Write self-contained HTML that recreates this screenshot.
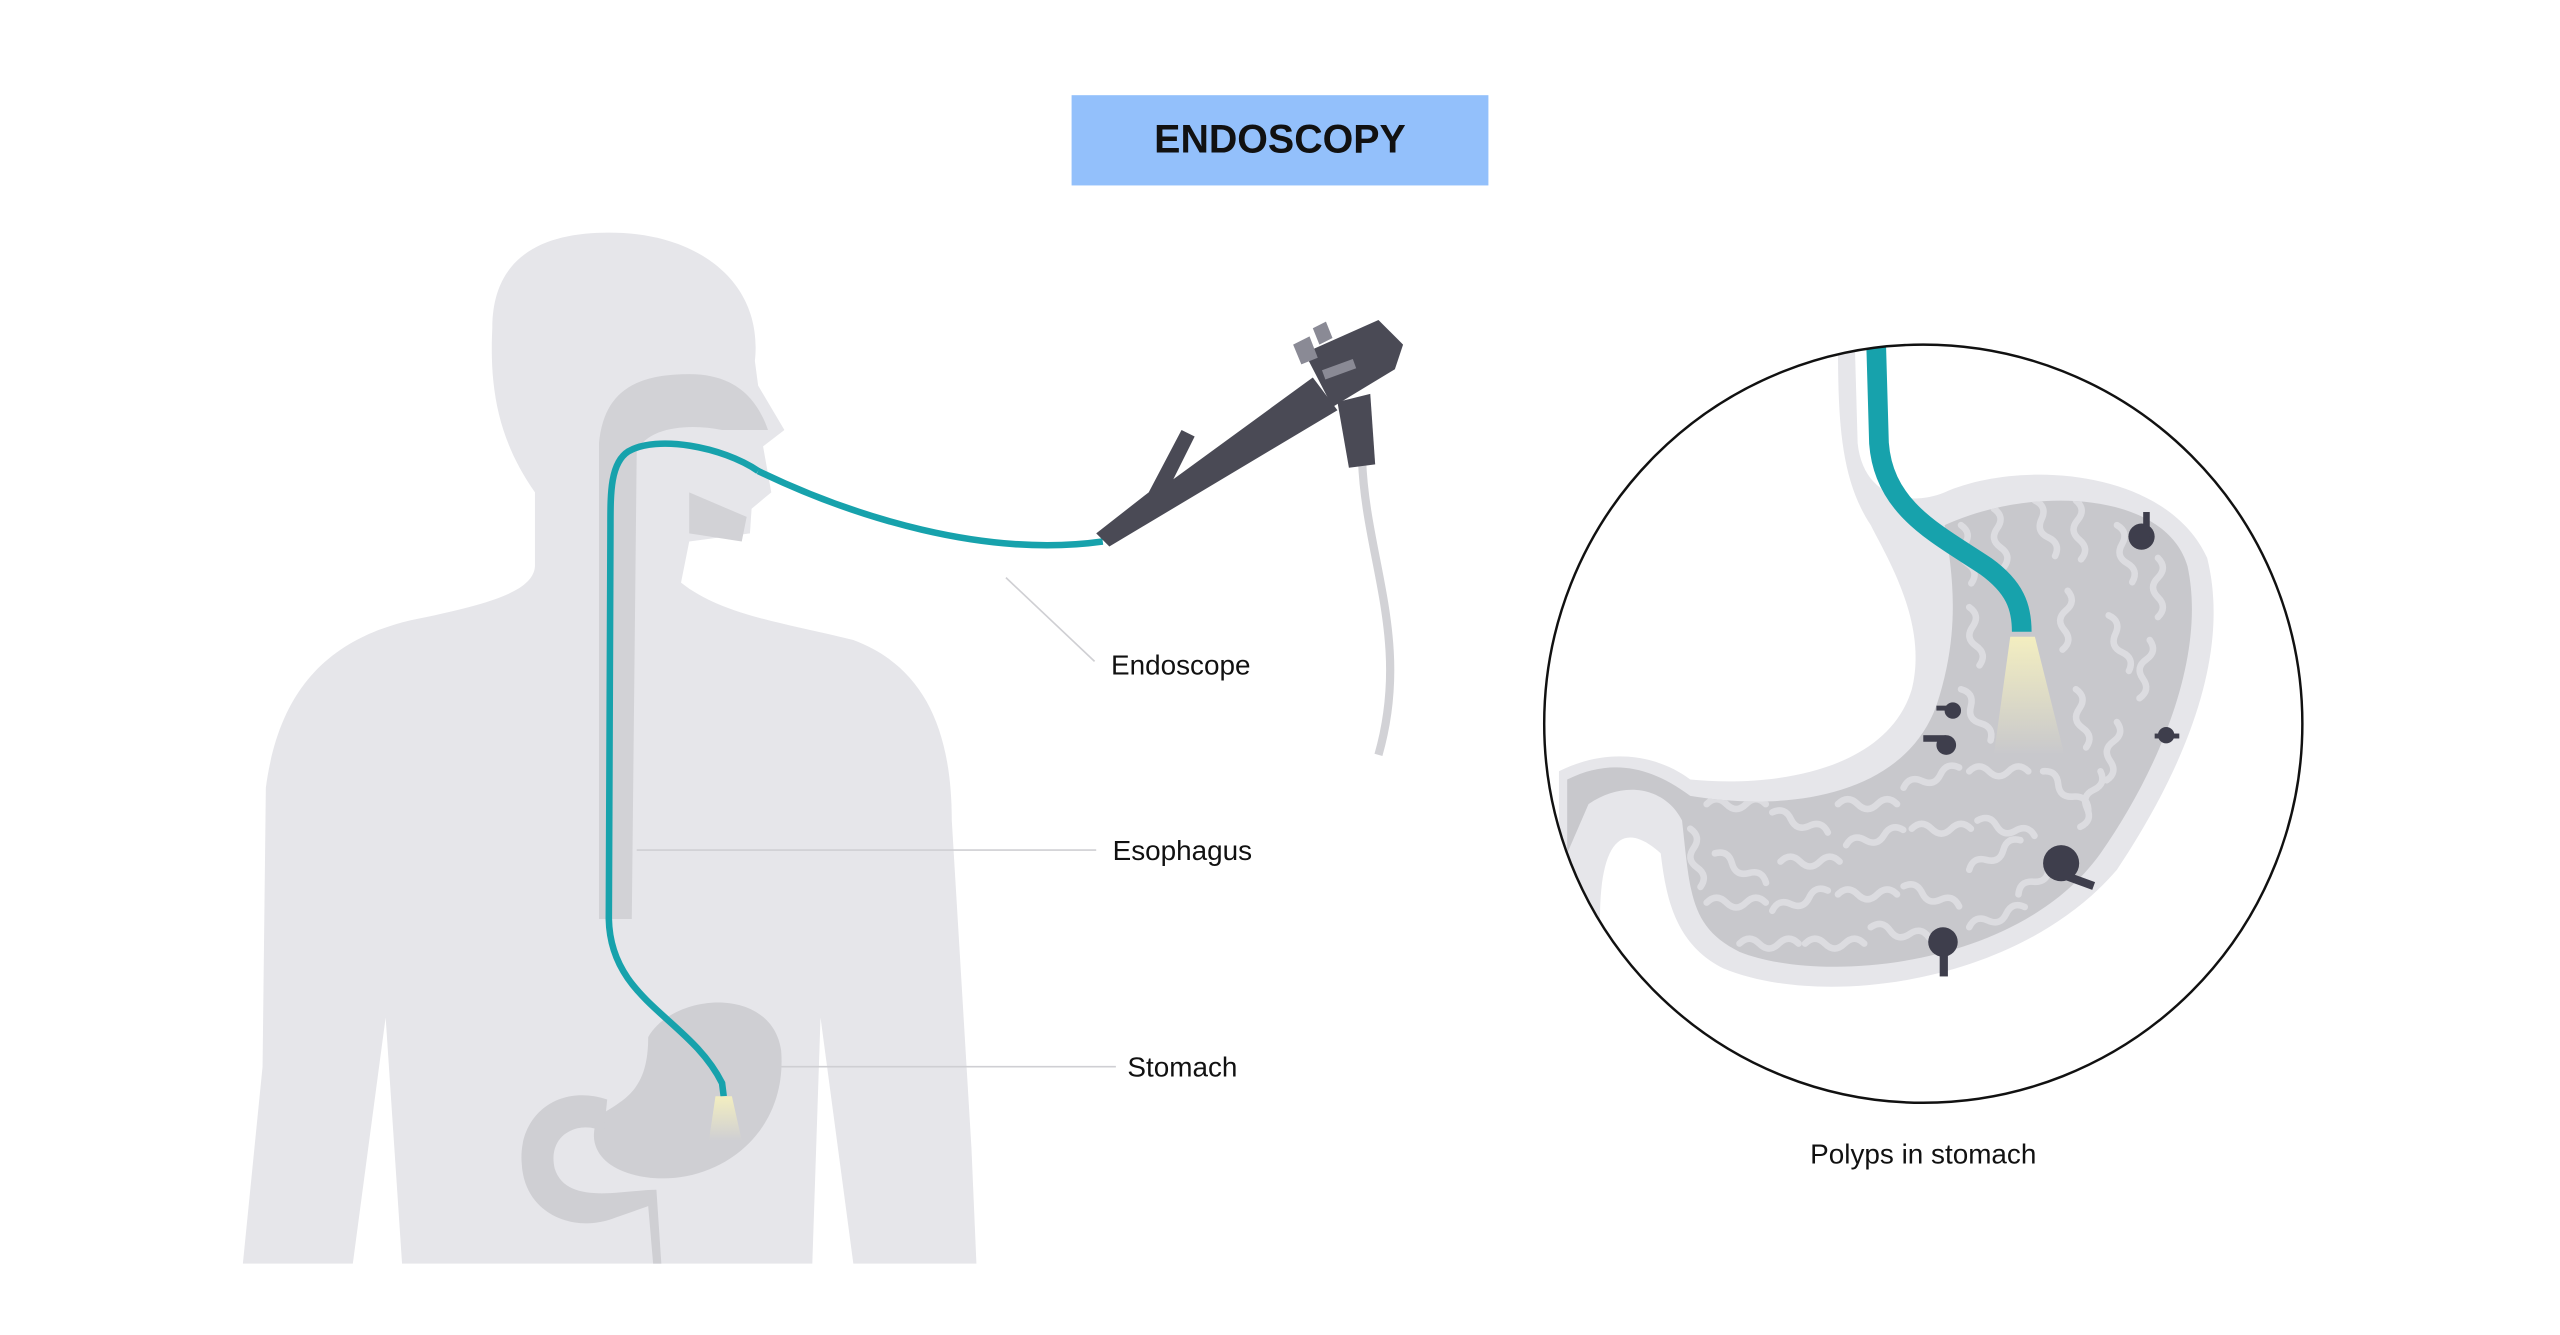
<!DOCTYPE html>
<html><head><meta charset="utf-8"><style>
html,body{margin:0;padding:0;background:#fff;}
svg{display:block;}
text{font-family:"Liberation Sans",sans-serif;}
</style></head><body>
<svg width="2560" height="1335" viewBox="0 0 1560 813.5" preserveAspectRatio="none" xmlns="http://www.w3.org/2000/svg">
<defs>
<clipPath id="cc"><circle cx="1172" cy="441" r="231"/></clipPath>
<clipPath id="st"><path d="M1185,320 C1240,295 1320,300 1333,345 C1345,400 1315,470 1280,520 C1230,590 1110,600 1060,580 C1030,565 1030,545 1025,500 C1015,480 990,475 968,490 L955,520 L955,475 C985,460 1010,470 1030,485 C1090,495 1160,485 1180,430 C1195,385 1190,350 1185,320 Z"/></clipPath>
<linearGradient id="lg" x1="0" y1="0" x2="0" y2="1"><stop offset="0" stop-color="#f3eec0"/><stop offset="1" stop-color="#f3eec0" stop-opacity="0"/></linearGradient>
<path id="w" d="M0,0 q6,-6 12,0 q6,6 12,0 q6,-6 12,0" fill="none" stroke="#dcdce0" stroke-width="4" stroke-linecap="round"/>
</defs>
<rect x="653" y="58" width="254" height="55" fill="#93c0fb"/>
<text x="780" y="93" font-size="24" font-weight="bold" text-anchor="middle" fill="#111">ENDOSCOPY</text>

<g fill="#e6e6ea">
<path d="M300,200 C300,150 340,140 380,142 C430,145 465,175 460,220 L462,235 L478,262 L465,272 L470,300 L458,310 L457,325 L420,330 L415,355 C440,375 480,380 520,390 C560,405 580,440 580,500 L592,700 L595,770 L520,770 L500,620 L495,770 L245,770 L235,620 L215,770 L148,770 L160,650 L162,480 C170,420 200,390 250,378 C300,368 325,360 326,345 L326,300 C305,270 298,240 300,200 Z"/>
</g>
<path d="M365,270 C368,240 385,228 420,228 C450,228 462,245 468,262 L440,262 C420,258 395,260 388,275 L385,560 L365,560 Z" fill="#d2d2d6"/>
<path d="M420,300 L455,315 L452,330 L420,325 Z" fill="#d2d2d6"/>
<path d="M395,632 C410,605 470,600 476,640 C480,690 440,720 400,718 C370,716 355,700 365,680 C380,670 395,665 395,632 Z" fill="#cfcfd3"/>
<path d="M370,670 C340,660 315,680 318,710 C320,740 350,752 375,742 L395,735 L398,770 L403,770 L400,725 C380,725 345,735 338,712 C333,690 355,682 368,690 Z" fill="#cfcfd3"/>
<path d="M462,287 C440,272 400,265 383,275 C372,282 372,300 372,320 L371,560 C372,610 420,620 440,660 L441,668" fill="none" stroke="#17a2ac" stroke-width="4"/>
<path d="M436,668 L446,668 L452,695 L432,695 Z" fill="url(#lg)"/>
<path d="M462,287 C520,315 600,340 672,330" fill="none" stroke="#17a2ac" stroke-width="4"/>
<path d="M830,280 C832,340 860,390 840,460" fill="none" stroke="#d2d2d6" stroke-width="5"/>
<g fill="#4a4a55">
<path d="M668,325 L700,300 L720,262 L728,266 L715,292 L800,230 L815,250 L676,333 Z"/>
<path d="M795,215 L840,195 L855,210 L850,225 L812,248 Z"/>
<path d="M815,245 L835,240 L838,283 L822,285 Z"/>
<path d="M788,210 L798,205 L803,218 L793,222 Z" fill="#8a8a95"/>
<path d="M800,200 L808,196 L812,206 L804,210 Z" fill="#8a8a95"/>
</g>
<rect x="806" y="222" width="20" height="6" fill="#8a8a95" transform="rotate(-20 816 225)"/>

<g stroke="#cfcfd3" stroke-width="1">
<line x1="613" y1="352" x2="667" y2="403"/>
<line x1="388" y1="518" x2="668" y2="518"/>
<line x1="470" y1="650" x2="680" y2="650"/>
</g>
<g font-size="17" fill="#111">
<text x="677" y="411">Endoscope</text>
<text x="678" y="524">Esophagus</text>
<text x="687" y="656">Stomach</text>
<text x="1172" y="709" text-anchor="middle">Polyps in stomach</text>
</g>

<g clip-path="url(#cc)">
<path d="M1130,200 L1132,270 C1135,300 1160,310 1185,300 C1230,280 1320,285 1345,340 C1360,400 1330,470 1290,530 C1230,600 1110,615 1050,590 C1020,575 1015,545 1012,520 C990,500 975,510 975,560 L950,560 L950,470 C980,455 1010,460 1030,475 C1080,480 1150,470 1165,420 C1175,380 1150,340 1140,320 C1120,290 1120,250 1120,200 Z" fill="#e6e6ea"/>
<path d="M1185,320 C1240,295 1320,300 1333,345 C1345,400 1315,470 1280,520 C1230,590 1110,600 1060,580 C1030,565 1030,545 1025,500 C1015,480 990,475 968,490 L955,520 L955,475 C985,460 1010,470 1030,485 C1090,495 1160,485 1180,430 C1195,385 1190,350 1185,320 Z" fill="#c8c8cc"/>
<g clip-path="url(#st)">
<use href="#w" x="1195" y="320" transform="rotate(80 1195 320)"/>
<use href="#w" x="1215" y="310" transform="rotate(80 1215 310)"/>
<use href="#w" x="1240" y="305" transform="rotate(70 1240 305)"/>
<use href="#w" x="1265" y="305" transform="rotate(85 1265 305)"/>
<use href="#w" x="1290" y="320" transform="rotate(75 1290 320)"/>
<use href="#w" x="1315" y="340" transform="rotate(90 1315 340)"/>
<use href="#w" x="1200" y="370" transform="rotate(80 1200 370)"/>
<use href="#w" x="1260" y="360" transform="rotate(95 1260 360)"/>
<use href="#w" x="1285" y="375" transform="rotate(70 1285 375)"/>
<use href="#w" x="1310" y="390" transform="rotate(100 1310 390)"/>
<use href="#w" x="1195" y="420" transform="rotate(60 1195 420)"/>
<use href="#w" x="1265" y="420" transform="rotate(80 1265 420)"/>
<use href="#w" x="1290" y="440" transform="rotate(100 1290 440)"/>
<use href="#w" x="1245" y="470" transform="rotate(40 1245 470)"/>
<use href="#w" x="1280" y="470" transform="rotate(110 1280 470)"/>
<use href="#w" x="1040" y="490"/><use href="#w" x="1080" y="495" transform="rotate(20 1080 495)"/>
<use href="#w" x="1120" y="490"/><use href="#w" x="1160" y="480" transform="rotate(-20 1160 480)"/>
<use href="#w" x="1200" y="470"/><use href="#w" x="1045" y="520" transform="rotate(30 1045 520)"/>
<use href="#w" x="1085" y="525"/><use href="#w" x="1125" y="515" transform="rotate(-15 1125 515)"/>
<use href="#w" x="1165" y="505"/><use href="#w" x="1205" y="500" transform="rotate(15 1205 500)"/>
<use href="#w" x="1040" y="550"/><use href="#w" x="1080" y="555" transform="rotate(-20 1080 555)"/>
<use href="#w" x="1120" y="545"/><use href="#w" x="1160" y="540" transform="rotate(20 1160 540)"/>
<use href="#w" x="1200" y="530" transform="rotate(-30 1200 530)"/><use href="#w" x="1230" y="545" transform="rotate(-40 1230 545)"/>
<use href="#w" x="1060" y="575"/><use href="#w" x="1100" y="575"/><use href="#w" x="1140" y="565" transform="rotate(10 1140 565)"/>
<use href="#w" x="1200" y="565" transform="rotate(-20 1200 565)"/><use href="#w" x="975" y="490" transform="rotate(60 975 490)"/>
<use href="#w" x="1030" y="505" transform="rotate(80 1030 505)"/>
</g>
<path d="M1143,200 L1145,270 C1148,310 1180,325 1210,345 C1228,358 1232,370 1232,385" fill="none" stroke="#17a2ac" stroke-width="12"/>
<path d="M1225,388 L1240,388 L1258,460 L1215,460 Z" fill="url(#lg)"/>
<g fill="#3e3e4c">
<circle cx="1305" cy="327" r="8"/><rect x="1306" y="312" width="4" height="15"/>
<circle cx="1186" cy="454" r="6"/><rect x="1172" y="448" width="14" height="4"/>
<circle cx="1190" cy="433" r="5"/><rect x="1180" y="430" width="10" height="3"/>
<circle cx="1256" cy="526" r="11"/><rect x="1256" y="530" width="22" height="5" transform="rotate(20 1256 530)"/>
<circle cx="1184" cy="574" r="9"/><rect x="1182" y="575" width="5" height="20"/>
<circle cx="1320" cy="448" r="5"/><rect x="1313" y="447" width="15" height="3"/>
</g>
</g>
<circle cx="1172" cy="441" r="231" fill="none" stroke="#111" stroke-width="1.5"/>
</svg>
</body></html>
